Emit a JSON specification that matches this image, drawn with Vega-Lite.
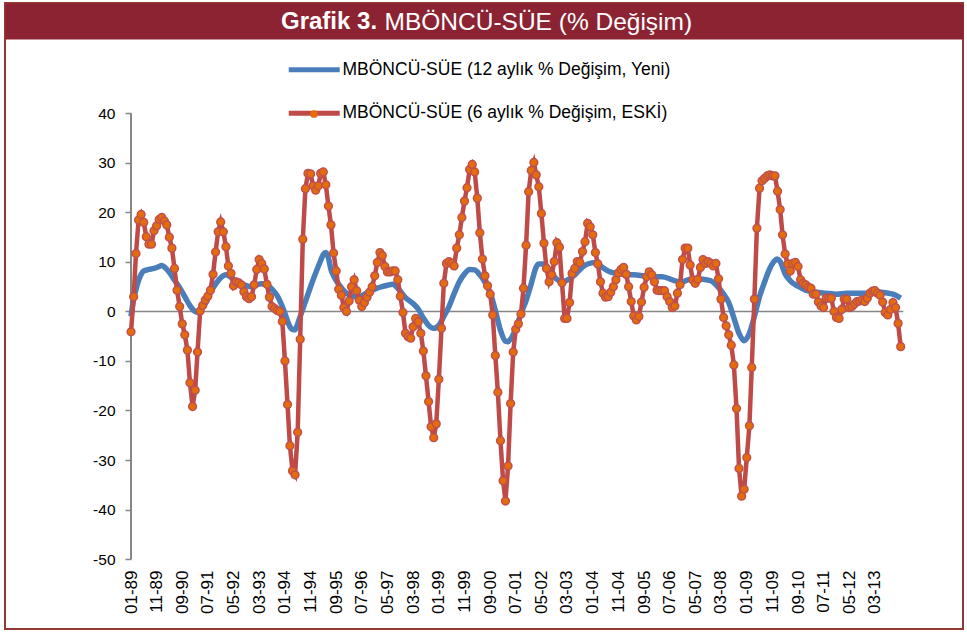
{
  "$schema": "https://vega.github.io/schema/vega-lite/v6.json",
  "width": 958,
  "height": 626,
  "autosize": {"type": "none"},
  "padding": {"left": 5, "top": 3, "right": 4, "bottom": 3},
  "background": "white",
  "config": {
    "font": "Liberation Sans",
    "view": {"stroke": "#953735", "strokeWidth": 2, "fill": "white"}
  },
  "title": {
    "text": "Grafik 3.",
    "anchor": "start",
    "frame": "group",
    "align": "left",
    "baseline": "middle",
    "dx": 276,
    "dy": 43,
    "offset": 0,
    "color": "white",
    "font": "Liberation Sans",
    "fontSize": 24,
    "fontWeight": "bold"
  },
  "datasets": {
    "red": [
      {"date": "1989-01", "value": -4.1}, {"date": "1989-02", "value": 3}, {"date": "1989-03", "value": 11.7}, {"date": "1989-04", "value": 18.5}, {"date": "1989-05", "value": 19.6}, {"date": "1989-06", "value": 18}, {"date": "1989-07", "value": 15.1}, {"date": "1989-08", "value": 13.6}, {"date": "1989-09", "value": 13.6}, {"date": "1989-10", "value": 16.3}, {"date": "1989-11", "value": 17.3}, {"date": "1989-12", "value": 18.6},
      {"date": "1990-01", "value": 19}, {"date": "1990-02", "value": 18.3}, {"date": "1990-03", "value": 17.5}, {"date": "1990-04", "value": 15}, {"date": "1990-05", "value": 12.8}, {"date": "1990-06", "value": 8.7}, {"date": "1990-07", "value": 4.3}, {"date": "1990-08", "value": 1}, {"date": "1990-09", "value": -2.5}, {"date": "1990-10", "value": -4.7}, {"date": "1990-11", "value": -7.8}, {"date": "1990-12", "value": -14.4},
      {"date": "1991-01", "value": -19.2}, {"date": "1991-02", "value": -15.9}, {"date": "1991-03", "value": -8.2}, {"date": "1991-04", "value": 0.1}, {"date": "1991-05", "value": 1.2}, {"date": "1991-06", "value": 2.3}, {"date": "1991-07", "value": 3.1}, {"date": "1991-08", "value": 4.3}, {"date": "1991-09", "value": 7.5}, {"date": "1991-10", "value": 12}, {"date": "1991-11", "value": 16.1}, {"date": "1991-12", "value": 18.1},
      {"date": "1992-01", "value": 16.1}, {"date": "1992-02", "value": 13.1}, {"date": "1992-03", "value": 9.2}, {"date": "1992-04", "value": 7.7}, {"date": "1992-05", "value": 5.2}, {"date": "1992-06", "value": 6}, {"date": "1992-07", "value": 5.8}, {"date": "1992-08", "value": 5.4}, {"date": "1992-09", "value": 4}, {"date": "1992-10", "value": 3}, {"date": "1992-11", "value": 2.6}, {"date": "1992-12", "value": 3},
      {"date": "1993-01", "value": 5.4}, {"date": "1993-02", "value": 8.5}, {"date": "1993-03", "value": 10.5}, {"date": "1993-04", "value": 9.7}, {"date": "1993-05", "value": 8.6}, {"date": "1993-06", "value": 5.5}, {"date": "1993-07", "value": 2.9}, {"date": "1993-08", "value": 1}, {"date": "1993-09", "value": 0.6}, {"date": "1993-10", "value": 0.2}, {"date": "1993-11", "value": 0}, {"date": "1993-12", "value": -2},
      {"date": "1994-01", "value": -10}, {"date": "1994-02", "value": -18.8}, {"date": "1994-03", "value": -27.1}, {"date": "1994-04", "value": -32.2}, {"date": "1994-05", "value": -33}, {"date": "1994-06", "value": -24.4}, {"date": "1994-07", "value": -5.6}, {"date": "1994-08", "value": 14.6}, {"date": "1994-09", "value": 24.8}, {"date": "1994-10", "value": 27.9}, {"date": "1994-11", "value": 27.8}, {"date": "1994-12", "value": 25.4},
      {"date": "1995-01", "value": 24.5}, {"date": "1995-02", "value": 25.4}, {"date": "1995-03", "value": 27.9}, {"date": "1995-04", "value": 28.2}, {"date": "1995-05", "value": 25.6}, {"date": "1995-06", "value": 21.3}, {"date": "1995-07", "value": 17.5}, {"date": "1995-08", "value": 11.8}, {"date": "1995-09", "value": 8.2}, {"date": "1995-10", "value": 4.5}, {"date": "1995-11", "value": 3.3}, {"date": "1995-12", "value": 0.8},
      {"date": "1996-01", "value": 0}, {"date": "1996-02", "value": 2.1}, {"date": "1996-03", "value": 5}, {"date": "1996-04", "value": 6.4}, {"date": "1996-05", "value": 4.2}, {"date": "1996-06", "value": 2.3}, {"date": "1996-07", "value": 1}, {"date": "1996-08", "value": 1.8}, {"date": "1996-09", "value": 2.9}, {"date": "1996-10", "value": 3.9}, {"date": "1996-11", "value": 5}, {"date": "1996-12", "value": 7.2},
      {"date": "1997-01", "value": 9.9}, {"date": "1997-02", "value": 11.9}, {"date": "1997-03", "value": 11.3}, {"date": "1997-04", "value": 9.1}, {"date": "1997-05", "value": 8}, {"date": "1997-06", "value": 8}, {"date": "1997-07", "value": 8.2}, {"date": "1997-08", "value": 8.2}, {"date": "1997-09", "value": 6.4}, {"date": "1997-10", "value": 3.1}, {"date": "1997-11", "value": -0.2}, {"date": "1997-12", "value": -4.4},
      {"date": "1998-01", "value": -5.1}, {"date": "1998-02", "value": -5.4}, {"date": "1998-03", "value": -3.1}, {"date": "1998-04", "value": -1.4}, {"date": "1998-05", "value": -2.1}, {"date": "1998-06", "value": -4.4}, {"date": "1998-07", "value": -8}, {"date": "1998-08", "value": -13}, {"date": "1998-09", "value": -18.2}, {"date": "1998-10", "value": -23.3}, {"date": "1998-11", "value": -25.5}, {"date": "1998-12", "value": -22.7},
      {"date": "1999-01", "value": -13.7}, {"date": "1999-02", "value": -3.4}, {"date": "1999-03", "value": 5.7}, {"date": "1999-04", "value": 9.7}, {"date": "1999-05", "value": 10.1}, {"date": "1999-06", "value": 9.7}, {"date": "1999-07", "value": 9.2}, {"date": "1999-08", "value": 12.8}, {"date": "1999-09", "value": 15.5}, {"date": "1999-10", "value": 19}, {"date": "1999-11", "value": 22.3}, {"date": "1999-12", "value": 25},
      {"date": "2000-01", "value": 28.7}, {"date": "2000-02", "value": 29.7}, {"date": "2000-03", "value": 28.2}, {"date": "2000-04", "value": 22.9}, {"date": "2000-05", "value": 15.9}, {"date": "2000-06", "value": 10.6}, {"date": "2000-07", "value": 7.2}, {"date": "2000-08", "value": 5.2}, {"date": "2000-09", "value": 3.5}, {"date": "2000-10", "value": -0.7}, {"date": "2000-11", "value": -8.9}, {"date": "2000-12", "value": -16.3},
      {"date": "2001-01", "value": -26.1}, {"date": "2001-02", "value": -34.2}, {"date": "2001-03", "value": -38.3}, {"date": "2001-04", "value": -31.2}, {"date": "2001-05", "value": -18.6}, {"date": "2001-06", "value": -8.2}, {"date": "2001-07", "value": -3.6}, {"date": "2001-08", "value": -2.5}, {"date": "2001-09", "value": -0.5}, {"date": "2001-10", "value": 4.7}, {"date": "2001-11", "value": 13.4}, {"date": "2001-12", "value": 24.2},
      {"date": "2002-01", "value": 28.5}, {"date": "2002-02", "value": 30.1}, {"date": "2002-03", "value": 27.6}, {"date": "2002-04", "value": 25.2}, {"date": "2002-05", "value": 19.8}, {"date": "2002-06", "value": 13.8}, {"date": "2002-07", "value": 8.7}, {"date": "2002-08", "value": 6}, {"date": "2002-09", "value": 7.4}, {"date": "2002-10", "value": 10.1}, {"date": "2002-11", "value": 13.9}, {"date": "2002-12", "value": 13},
      {"date": "2003-01", "value": 5.8}, {"date": "2003-02", "value": -1.4}, {"date": "2003-03", "value": -1.4}, {"date": "2003-04", "value": 1.8}, {"date": "2003-05", "value": 7.7}, {"date": "2003-06", "value": 8.7}, {"date": "2003-07", "value": 10.1}, {"date": "2003-08", "value": 9.9}, {"date": "2003-09", "value": 12.1}, {"date": "2003-10", "value": 14.1}, {"date": "2003-11", "value": 17.8}, {"date": "2003-12", "value": 17.1},
      {"date": "2004-01", "value": 15.5}, {"date": "2004-02", "value": 11.9}, {"date": "2004-03", "value": 9.6}, {"date": "2004-04", "value": 6}, {"date": "2004-05", "value": 3.7}, {"date": "2004-06", "value": 2.9}, {"date": "2004-07", "value": 3}, {"date": "2004-08", "value": 3.9}, {"date": "2004-09", "value": 5}, {"date": "2004-10", "value": 6.4}, {"date": "2004-11", "value": 7.8}, {"date": "2004-12", "value": 8.5},
      {"date": "2005-01", "value": 8.9}, {"date": "2005-02", "value": 7.5}, {"date": "2005-03", "value": 5}, {"date": "2005-04", "value": 2}, {"date": "2005-05", "value": -0.9}, {"date": "2005-06", "value": -1.7}, {"date": "2005-07", "value": -1}, {"date": "2005-08", "value": 1.9}, {"date": "2005-09", "value": 4.9}, {"date": "2005-10", "value": 7}, {"date": "2005-11", "value": 8}, {"date": "2005-12", "value": 7.4},
      {"date": "2006-01", "value": 6}, {"date": "2006-02", "value": 4.3}, {"date": "2006-03", "value": 4.2}, {"date": "2006-04", "value": 4.2}, {"date": "2006-05", "value": 4.2}, {"date": "2006-06", "value": 3}, {"date": "2006-07", "value": 2}, {"date": "2006-08", "value": 0.8}, {"date": "2006-09", "value": 1.1}, {"date": "2006-10", "value": 3.7}, {"date": "2006-11", "value": 5.4}, {"date": "2006-12", "value": 10.5},
      {"date": "2007-01", "value": 12.8}, {"date": "2007-02", "value": 12.8}, {"date": "2007-03", "value": 9.4}, {"date": "2007-04", "value": 6.4}, {"date": "2007-05", "value": 5.7}, {"date": "2007-06", "value": 6.5}, {"date": "2007-07", "value": 8.9}, {"date": "2007-08", "value": 10.5}, {"date": "2007-09", "value": 9.7}, {"date": "2007-10", "value": 10.1}, {"date": "2007-11", "value": 9.7}, {"date": "2007-12", "value": 9.2},
      {"date": "2008-01", "value": 9.7}, {"date": "2008-02", "value": 6.6}, {"date": "2008-03", "value": 2.5}, {"date": "2008-04", "value": -1.2}, {"date": "2008-05", "value": -2.9}, {"date": "2008-06", "value": -4.7}, {"date": "2008-07", "value": -6.8}, {"date": "2008-08", "value": -10.8}, {"date": "2008-09", "value": -19.6}, {"date": "2008-10", "value": -31.7}, {"date": "2008-11", "value": -37.3}, {"date": "2008-12", "value": -35.9},
      {"date": "2009-01", "value": -29.5}, {"date": "2009-02", "value": -23.1}, {"date": "2009-03", "value": -11.3}, {"date": "2009-04", "value": 2.5}, {"date": "2009-05", "value": 16.8}, {"date": "2009-06", "value": 24.9}, {"date": "2009-07", "value": 26.4}, {"date": "2009-08", "value": 26.9}, {"date": "2009-09", "value": 27.4}, {"date": "2009-10", "value": 27.6}, {"date": "2009-11", "value": 27.4}, {"date": "2009-12", "value": 27.4},
      {"date": "2010-01", "value": 24.3}, {"date": "2010-02", "value": 20.6}, {"date": "2010-03", "value": 15.5}, {"date": "2010-04", "value": 11.6}, {"date": "2010-05", "value": 9.6}, {"date": "2010-06", "value": 8.2}, {"date": "2010-07", "value": 9.7}, {"date": "2010-08", "value": 9.9}, {"date": "2010-09", "value": 9.1}, {"date": "2010-10", "value": 6.4}, {"date": "2010-11", "value": 5.7}, {"date": "2010-12", "value": 5.4},
      {"date": "2011-01", "value": 4.9}, {"date": "2011-02", "value": 4.7}, {"date": "2011-03", "value": 3.5}, {"date": "2011-04", "value": 3.5}, {"date": "2011-05", "value": 1.9}, {"date": "2011-06", "value": 1.1}, {"date": "2011-07", "value": 0.8}, {"date": "2011-08", "value": 2.7}, {"date": "2011-09", "value": 2.7}, {"date": "2011-10", "value": 2.7}, {"date": "2011-11", "value": 0}, {"date": "2011-12", "value": -1.2},
      {"date": "2012-01", "value": -1.4}, {"date": "2012-02", "value": 0.4}, {"date": "2012-03", "value": 2.5}, {"date": "2012-04", "value": 2.5}, {"date": "2012-05", "value": 0.8}, {"date": "2012-06", "value": 1}, {"date": "2012-07", "value": 1.5}, {"date": "2012-08", "value": 2}, {"date": "2012-09", "value": 2.1}, {"date": "2012-10", "value": 2.3}, {"date": "2012-11", "value": 2}, {"date": "2012-12", "value": 2.7},
      {"date": "2013-01", "value": 3.7}, {"date": "2013-02", "value": 4.1}, {"date": "2013-03", "value": 4.2}, {"date": "2013-04", "value": 3.7}, {"date": "2013-05", "value": 3.3}, {"date": "2013-06", "value": 1.9}, {"date": "2013-07", "value": -0.2}, {"date": "2013-08", "value": -0.7}, {"date": "2013-09", "value": 0.4}, {"date": "2013-10", "value": 1.8}, {"date": "2013-11", "value": 0.8}, {"date": "2013-12", "value": -2.4},
      {"date": "2014-01", "value": -7.1}
    ],
    "blue": [
      {"date": "1989-01", "value": -1}, {"date": "1989-02", "value": 2.5}, {"date": "1989-03", "value": 4.5}, {"date": "1989-04", "value": 6.3}, {"date": "1989-05", "value": 7.5}, {"date": "1989-06", "value": 8.2}, {"date": "1989-08", "value": 8.5}, {"date": "1989-10", "value": 8.7}, {"date": "1989-12", "value": 9.1},
      {"date": "1990-01", "value": 9.3}, {"date": "1990-02", "value": 9}, {"date": "1990-04", "value": 7.9}, {"date": "1990-06", "value": 6.3}, {"date": "1990-08", "value": 4.8}, {"date": "1990-10", "value": 3}, {"date": "1990-12", "value": 1.2},
      {"date": "1991-02", "value": 0}, {"date": "1991-03", "value": -0.2}, {"date": "1991-04", "value": 0.2}, {"date": "1991-06", "value": 1.6}, {"date": "1991-08", "value": 3.8}, {"date": "1991-10", "value": 5.5}, {"date": "1991-12", "value": 6.8},
      {"date": "1992-02", "value": 7.4}, {"date": "1992-04", "value": 6.9}, {"date": "1992-06", "value": 6.2}, {"date": "1992-08", "value": 5.6}, {"date": "1992-10", "value": 5.2}, {"date": "1992-12", "value": 5},
      {"date": "1993-02", "value": 5.4}, {"date": "1993-04", "value": 5.6}, {"date": "1993-06", "value": 5.4}, {"date": "1993-08", "value": 4.5}, {"date": "1993-10", "value": 3.2}, {"date": "1993-12", "value": 1},
      {"date": "1994-01", "value": -0.4}, {"date": "1994-02", "value": -1.9}, {"date": "1994-03", "value": -3.1}, {"date": "1994-04", "value": -3.6}, {"date": "1994-05", "value": -3.7}, {"date": "1994-06", "value": -2.5}, {"date": "1994-07", "value": -1}, {"date": "1994-09", "value": 2}, {"date": "1994-11", "value": 5},
      {"date": "1995-01", "value": 7.8}, {"date": "1995-03", "value": 10.3}, {"date": "1995-04", "value": 11.5}, {"date": "1995-05", "value": 11.9}, {"date": "1995-06", "value": 10.8}, {"date": "1995-07", "value": 8.5}, {"date": "1995-08", "value": 7.2}, {"date": "1995-10", "value": 5.5},
      {"date": "1996-01", "value": 3.7}, {"date": "1996-04", "value": 3}, {"date": "1996-06", "value": 3}, {"date": "1996-09", "value": 3.8}, {"date": "1996-12", "value": 4.5},
      {"date": "1997-02", "value": 4.9}, {"date": "1997-05", "value": 5.3}, {"date": "1997-07", "value": 5.5}, {"date": "1997-09", "value": 4.7}, {"date": "1997-12", "value": 2.8},
      {"date": "1998-03", "value": 1.6}, {"date": "1998-05", "value": 0.5}, {"date": "1998-07", "value": -1.3}, {"date": "1998-09", "value": -2.8}, {"date": "1998-11", "value": -3.4},
      {"date": "1999-01", "value": -2.8}, {"date": "1999-03", "value": -1}, {"date": "1999-05", "value": 1}, {"date": "1999-07", "value": 3.6}, {"date": "1999-09", "value": 6}, {"date": "1999-11", "value": 7.6},
      {"date": "2000-01", "value": 8.5}, {"date": "2000-03", "value": 8.4}, {"date": "2000-05", "value": 7.4}, {"date": "2000-07", "value": 5.9}, {"date": "2000-09", "value": 3.8}, {"date": "2000-11", "value": 0.2},
      {"date": "2001-01", "value": -3.8}, {"date": "2001-03", "value": -6}, {"date": "2001-04", "value": -6.1}, {"date": "2001-05", "value": -5.6}, {"date": "2001-07", "value": -3.5}, {"date": "2001-09", "value": -0.4}, {"date": "2001-11", "value": 2.2},
      {"date": "2002-01", "value": 5.6}, {"date": "2002-03", "value": 9}, {"date": "2002-04", "value": 9.6}, {"date": "2002-06", "value": 9.6}, {"date": "2002-08", "value": 8.4}, {"date": "2002-10", "value": 7},
      {"date": "2003-01", "value": 6}, {"date": "2003-03", "value": 6.3}, {"date": "2003-06", "value": 7.4}, {"date": "2003-09", "value": 9}, {"date": "2003-11", "value": 9.6},
      {"date": "2004-02", "value": 9.9}, {"date": "2004-04", "value": 9.2}, {"date": "2004-07", "value": 8.2}, {"date": "2004-10", "value": 7.7},
      {"date": "2005-01", "value": 7.5}, {"date": "2005-05", "value": 7.4}, {"date": "2005-09", "value": 7.2},
      {"date": "2006-01", "value": 7}, {"date": "2006-04", "value": 7}, {"date": "2006-07", "value": 6.6}, {"date": "2006-09", "value": 6.2}, {"date": "2006-12", "value": 6},
      {"date": "2007-02", "value": 6.4}, {"date": "2007-05", "value": 6.6}, {"date": "2007-08", "value": 6.5}, {"date": "2007-11", "value": 6.2},
      {"date": "2008-01", "value": 5.4}, {"date": "2008-04", "value": 3.5}, {"date": "2008-06", "value": 1.8}, {"date": "2008-08", "value": -1.3}, {"date": "2008-10", "value": -4.4}, {"date": "2008-12", "value": -5.9},
      {"date": "2009-02", "value": -4.4}, {"date": "2009-04", "value": -1}, {"date": "2009-06", "value": 3}, {"date": "2009-08", "value": 6}, {"date": "2009-10", "value": 8.7}, {"date": "2009-12", "value": 10.3},
      {"date": "2010-01", "value": 10.6}, {"date": "2010-02", "value": 10.1}, {"date": "2010-04", "value": 7.6}, {"date": "2010-06", "value": 6.2}, {"date": "2010-09", "value": 5.1}, {"date": "2010-12", "value": 4.3},
      {"date": "2011-04", "value": 3.9}, {"date": "2011-08", "value": 3.7}, {"date": "2011-12", "value": 3.5},
      {"date": "2012-04", "value": 3.7}, {"date": "2012-08", "value": 3.7}, {"date": "2012-12", "value": 3.7},
      {"date": "2013-03", "value": 4}, {"date": "2013-07", "value": 3.8}, {"date": "2013-10", "value": 3.5},
      {"date": "2014-01", "value": 2.7}
    ]
  },
  "resolve": {"axis": {"x": "independent"}},
  "layer": [
    {
      "data": {"values": [{}]},
      "mark": {"type": "rule", "color": "#868686", "strokeWidth": 1.5},
      "encoding": {
        "x": {
          "datum": {"year": 1989, "month": 1, "date": 1, "utc": true},
          "type": "temporal",
          "scale": {"type": "utc", "nice": false, "domain": [{"year": 1984, "month": 11, "date": 28, "utc": true}, {"year": 2016, "month": 1, "date": 10, "utc": true}]},
          "axis": {
            "orient": "top",
            "offset": -18,
            "domain": true,
            "domainColor": "#8C2332",
            "domainWidth": 36,
            "ticks": false,
            "labels": false,
            "grid": false,
            "title": "MBÖNCÜ-SÜE (% Değişim)",
            "titleColor": "white",
            "titleFont": "Liberation Sans",
            "titleFontSize": 24.5,
            "titleFontWeight": "normal",
            "titleX": 379,
            "titleY": 1,
            "titleAlign": "left",
            "titleBaseline": "middle"
          }
        },
        "x2": {"datum": {"year": 2014, "month": 2, "date": 1, "utc": true}},
        "y": {
          "datum": 0,
          "type": "quantitative",
          "scale": {"domain": [-64.14, 62.32], "nice": false, "zero": false},
          "axis": {
            "orient": "left",
            "offset": -126,
            "values": [-50, -40, -30, -20, -10, 0, 10, 20, 30, 40],
            "labelExpr": "'' + datum.value",
            "domain": false,
            "grid": false,
            "ticks": true,
            "tickColor": "#868686",
            "tickSize": 6,
            "tickWidth": 1.5,
            "labelFont": "Liberation Sans",
            "labelFontSize": 15.5,
            "labelColor": "#000000",
            "labelPadding": 10,
            "title": null
          }
        }
      }
    },
    {
      "data": {"values": [{}]},
      "mark": {"type": "rule", "color": "#868686", "strokeWidth": 2},
      "encoding": {
        "x": {"datum": {"year": 1989, "month": 1, "date": 1, "utc": true}, "type": "temporal", "axis": null},
        "y": {"datum": 40, "type": "quantitative"},
        "y2": {"datum": -50}
      }
    },
    {
      "data": {"name": "blue"},
      "mark": {"type": "line", "strokeWidth": 5.5, "interpolate": "monotone"},
      "encoding": {
        "x": {
          "field": "date",
          "type": "temporal",
          "axis": {
            "orient": "bottom",
            "offset": -70,
            "domain": false,
            "ticks": false,
            "grid": false,
            "labelAngle": -90,
            "labelAlign": "right",
            "labelBaseline": "middle",
            "labelFont": "Liberation Sans",
            "labelFontSize": 17,
            "labelColor": "#000000",
            "labelPadding": 11,
            "labelOverlap": false,
            "labelFlush": false,
            "labelBound": false,
            "labelExpr": "utcFormat(datum.value, '%m-%y')",
            "title": null,
            "values": [
              {"year": 1989, "month": 1, "date": 1, "utc": true}, {"year": 1989, "month": 11, "date": 1, "utc": true},
              {"year": 1990, "month": 9, "date": 1, "utc": true}, {"year": 1991, "month": 7, "date": 1, "utc": true},
              {"year": 1992, "month": 5, "date": 1, "utc": true}, {"year": 1993, "month": 3, "date": 1, "utc": true},
              {"year": 1994, "month": 1, "date": 1, "utc": true}, {"year": 1994, "month": 11, "date": 1, "utc": true},
              {"year": 1995, "month": 9, "date": 1, "utc": true}, {"year": 1996, "month": 7, "date": 1, "utc": true},
              {"year": 1997, "month": 5, "date": 1, "utc": true}, {"year": 1998, "month": 3, "date": 1, "utc": true},
              {"year": 1999, "month": 1, "date": 1, "utc": true}, {"year": 1999, "month": 11, "date": 1, "utc": true},
              {"year": 2000, "month": 9, "date": 1, "utc": true}, {"year": 2001, "month": 7, "date": 1, "utc": true},
              {"year": 2002, "month": 5, "date": 1, "utc": true}, {"year": 2003, "month": 3, "date": 1, "utc": true},
              {"year": 2004, "month": 1, "date": 1, "utc": true}, {"year": 2004, "month": 11, "date": 1, "utc": true},
              {"year": 2005, "month": 9, "date": 1, "utc": true}, {"year": 2006, "month": 7, "date": 1, "utc": true},
              {"year": 2007, "month": 5, "date": 1, "utc": true}, {"year": 2008, "month": 3, "date": 1, "utc": true},
              {"year": 2009, "month": 1, "date": 1, "utc": true}, {"year": 2009, "month": 11, "date": 1, "utc": true},
              {"year": 2010, "month": 9, "date": 1, "utc": true}, {"year": 2011, "month": 7, "date": 1, "utc": true},
              {"year": 2012, "month": 5, "date": 1, "utc": true}, {"year": 2013, "month": 3, "date": 1, "utc": true}
            ]
          }
        },
        "y": {"field": "value", "type": "quantitative"},
        "color": {
          "datum": "MBÖNCÜ-SÜE (12 aylık % Değişim, Yeni)",
          "type": "nominal",
          "scale": {
            "domain": ["MBÖNCÜ-SÜE (12 aylık % Değişim, Yeni)", "MBÖNCÜ-SÜE (6 aylık % Değişim, ESKİ)"],
            "range": ["#4A7EBB", "#BE4B48"]
          },
          "legend": {
            "orient": "none",
            "legendX": 300.5,
            "legendY": 58,
            "direction": "vertical",
            "title": null,
            "padding": 0,
            "symbolType": "M-25.5,0H25.5",
            "symbolSize": 4,
            "symbolStrokeWidth": 5,
            "labelFont": "Liberation Sans",
            "labelFontSize": 17.5,
            "labelColor": "#000000",
            "labelOffset": 19.5,
            "labelLimit": 600,
            "rowPadding": 22.5
          }
        }
      }
    },
    {
      "data": {"name": "red"},
      "mark": {"type": "line", "strokeWidth": 4.5},
      "encoding": {
        "x": {"field": "date", "type": "temporal", "axis": null},
        "y": {"field": "value", "type": "quantitative"},
        "color": {"datum": "MBÖNCÜ-SÜE (6 aylık % Değişim, ESKİ)", "type": "nominal"}
      }
    },
    {
      "data": {"name": "red"},
      "mark": {"type": "point", "filled": true, "fill": "#E46C0A", "stroke": "#C0504D", "strokeWidth": 1.5, "size": 60, "opacity": 1, "fillOpacity": 1},
      "encoding": {
        "x": {"field": "date", "type": "temporal", "axis": null},
        "y": {"field": "value", "type": "quantitative"},
        "shape": {
          "datum": "MBÖNCÜ-SÜE (6 aylık % Değişim, ESKİ)",
          "type": "nominal",
          "scale": {"domain": ["MBÖNCÜ-SÜE (6 aylık % Değişim, ESKİ)"], "range": ["circle"]},
          "legend": {
            "orient": "none",
            "legendX": 301,
            "legendY": 103,
            "title": null,
            "padding": 0,
            "symbolSize": 60,
            "symbolFillColor": "#E46C0A",
            "symbolStrokeColor": "#C0504D",
            "symbolStrokeWidth": 1.5,
            "labelFontSize": 16,
            "labelExpr": "''",
            "zindex": 3
          }
        }
      }
    }
  ]
}
